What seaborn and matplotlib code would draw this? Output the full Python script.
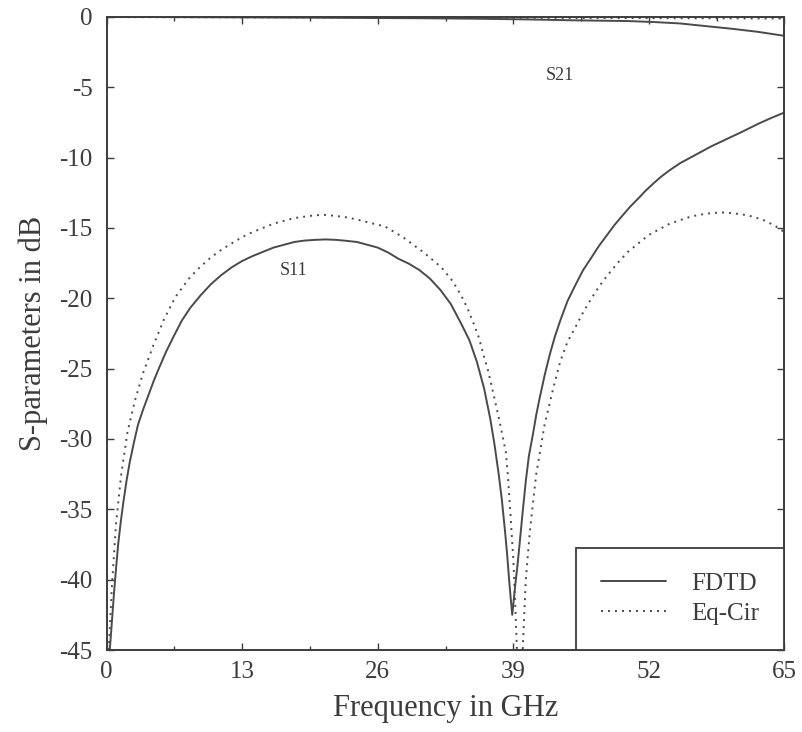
import seaborn as sns
import matplotlib.pyplot as plt
import pandas as pd

# S11, FDTD (solid)
s11_fdtd_f = [0.3, 0.5, 0.7, 0.9, 1.1, 1.35, 1.6, 1.9, 2.2, 2.6, 3.0, 3.5, 4.0, 4.5, 5.0, 5.7,
              6.5, 7.2, 8.0, 9.0, 10, 11, 12, 13, 14, 15, 16, 17, 18, 19, 20, 21, 22, 23,
              24, 25, 26, 27, 28, 29, 30, 31, 32, 33, 34, 34.8, 35.5, 36.2, 36.8, 37.2,
              37.6, 37.9, 38.2, 38.4, 38.6, 38.75, 38.9,
              39.05, 39.2, 39.4, 39.6, 39.9, 40.2, 40.5, 40.9, 41.2, 41.5, 42.0, 42.5,
              43.0, 43.5, 44.2, 45, 45.7, 46.5, 47.2, 48, 48.7, 49.5, 50.2, 51, 51.7,
              52.5, 53.2, 54, 55, 56, 57, 58, 59, 60, 61, 62.5, 63.7, 65]
s11_fdtd_db = [-45, -43, -41, -39.2, -37.5, -35.9, -34.5, -33.0, -31.7, -30.3, -29.0, -27.9,
               -26.9, -25.9, -25.0, -23.8, -22.6, -21.6, -20.7, -19.8, -19.0, -18.35, -17.8,
               -17.35, -17.0, -16.7, -16.4, -16.2, -16.0, -15.9, -15.85, -15.82, -15.85,
               -15.92, -16.0, -16.2, -16.4, -16.75, -17.2, -17.55, -18.0, -18.6, -19.4,
               -20.4, -21.8, -23.0, -24.5, -26.4, -28.6, -30.4, -32.5, -34.3, -36.5, -38.1,
               -40, -41.3, -42.5,
               -41.4, -40.3, -39.0, -37.5, -35.2, -33, -31.2, -29.6, -28.3, -27.2, -25.5,
               -24.0, -22.7, -21.6, -20.2, -19.0, -18.0, -17.1, -16.3, -15.5, -14.8, -14.1,
               -13.5, -12.9, -12.35, -11.8, -11.35, -10.9, -10.4, -10.0, -9.6, -9.2, -8.85,
               -8.5, -8.15, -7.6, -7.2, -6.8]

# S11, equivalent circuit (dotted)
s11_eq_f = [0.2, 0.5, 0.9, 1.4, 2.0, 2.7, 3.5, 4.5, 5.5, 6.6, 8.0, 9.0, 10, 11, 12, 13, 14,
            15, 16, 17, 18, 19, 20, 21, 22, 23, 24, 25.3, 26.7, 28.5, 30.5, 32.1, 33.2, 34,
            34.6, 35.2, 35.7, 36.1, 36.6, 37, 37.4, 37.7, 38.0, 38.3, 38.5, 38.7, 38.85,
            39.0, 39.1, 39.2, 39.4, 39.6, 39.9, 40.2, 40.6, 41.2, 42.0, 42.8, 43.5, 44.2,
            45, 45.7, 46.5, 47.2, 48, 49, 50, 51, 52, 53, 54, 55, 56, 57, 58, 59, 60, 61,
            62, 63, 64, 65]
s11_eq_db = [-45, -40.5, -36, -32.5, -29.5, -27.3, -25.3, -23.3, -21.5, -19.9, -18.5, -17.75,
             -17.1, -16.55, -16.1, -15.65, -15.3, -15.0, -14.7, -14.5, -14.3, -14.2, -14.1,
             -14.08, -14.15, -14.25, -14.4, -14.65, -14.9, -15.7, -16.8, -17.8, -18.8,
             -19.8, -20.7, -21.8, -22.8, -23.9, -25.2, -26.5, -27.8, -28.8, -29.9, -31.0,
             -32.8, -35, -36.8, -38.5, -40.2, -42, -46, -52, -45, -40, -36.5, -32.5, -29,
             -26.5, -24.5, -23.1, -22, -21.0, -20, -19.2, -18.4, -17.5, -16.7, -16.1, -15.5,
             -15.1, -14.7, -14.45, -14.2, -14.05, -13.95, -13.9, -13.95, -14.05, -14.2,
             -14.45, -14.8, -15.3]

# S21
s21_fdtd_f = [0, 10, 20, 30, 35, 40, 45, 50, 52.5, 55, 58, 60, 62.5, 65]
s21_fdtd_db = [0, -0.03, -0.06, -0.1, -0.13, -0.18, -0.25, -0.3, -0.37, -0.47, -0.7, -0.85,
               -1.07, -1.35]
s21_eq_f = [0, 20, 40, 65]
s21_eq_db = [-0.02, -0.04, -0.07, -0.12]

x_ticks = [0, 13, 26, 39, 52, 65]
y_ticks = [0, -5, -10, -15, -20, -25, -30, -35, -40, -45]

sns.set_theme(style="ticks")
plt.rcParams['font.family'] = ['Liberation Serif', 'DejaVu Serif']
plt.rcParams['axes.unicode_minus'] = False

ink = '#3c3c3c'
line_c = '#4a4a4a'
dots = (0, (1, 2.6))

fig = plt.figure(figsize=(8.02, 7.32), dpi=100)
ax = fig.add_axes([0.133, 0.112, 0.845, 0.865])

sns.lineplot(x=s11_fdtd_f, y=s11_fdtd_db, ax=ax, color=line_c, linewidth=1.4, label='FDTD')
sns.lineplot(x=s11_eq_f, y=s11_eq_db, ax=ax, color=line_c, linewidth=1.4,
             linestyle=dots, label='Eq-Cir')
sns.lineplot(x=s21_fdtd_f, y=s21_fdtd_db, ax=ax, color=line_c, linewidth=1.4)
sns.lineplot(x=s21_eq_f, y=s21_eq_db, ax=ax, color=line_c, linewidth=1.4, linestyle=dots)

ax.set_xlim(0, 65)
ax.set_ylim(-45, 0)
ax.set_xticks(x_ticks)
ax.set_yticks(y_ticks)
ax.set_xticks([6.5, 19.5, 32.5, 45.5, 58.5], minor=True)
ax.tick_params(axis='both', which='both', direction='in', top=True, right=True,
               colors=ink, labelcolor=ink, labelsize=18, length=5, width=1)
ax.tick_params(axis='both', which='minor', length=3)
ax.tick_params(axis='x', pad=8)
ax.tick_params(axis='y', pad=10)
for s in ax.spines.values():
    s.set_color(ink)
    s.set_linewidth(1.4)

ax.set_xlabel('Frequency in GHz', fontsize=22, color=ink, labelpad=8)
ax.set_ylabel('S-parameters in dB', fontsize=22, color=ink, labelpad=8)

ax.text(43.5, -4.2, 'S21', fontsize=13, color=ink, ha='center', va='center')
ax.text(17.9, -18.0, 'S11', fontsize=13, color=ink, ha='center', va='center')

leg = ax.legend(loc='lower right', borderaxespad=0, fontsize=18, fancybox=False,
                frameon=True, handlelength=2.6, handletextpad=1.0,
                borderpad=1.0, labelspacing=0.3, labelcolor=ink)
leg.get_frame().set_edgecolor(ink)
leg.get_frame().set_linewidth(1.3)
leg.get_frame().set_alpha(1)

fig.savefig('out.png', dpi=100)
